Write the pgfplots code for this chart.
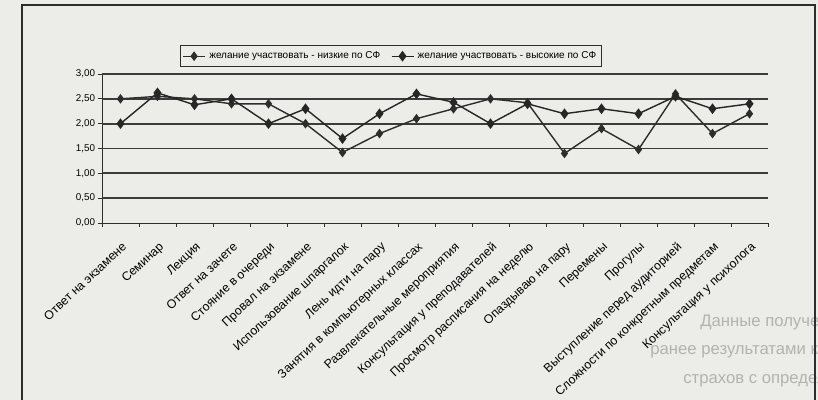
\documentclass[border=0pt]{standalone}
\usepackage{pgfplots}
\pgfplotsset{compat=1.18}
\usepackage{fontspec}
\setmainfont{Liberation Sans}
\definecolor{paper}{RGB}{236,236,233}
\definecolor{ink}{RGB}{45,45,45}
\definecolor{gridc}{RGB}{60,60,60}
\definecolor{ghost}{RGB}{178,178,176}

% 18 categories at x = 0..17
\pgfplotstableread{
x  low   high
0  2.50  2.00
1  2.55  2.62
2  2.50  2.38
3  2.40  2.50
4  2.40  2.00
5  2.00  2.30
6  1.42  1.70
7  1.80  2.20
8  2.10  2.60
9  2.30  2.43
10 2.50  2.00
11 2.42  2.40
12 1.40  2.20
13 1.90  2.30
14 1.48  2.20
15 2.60  2.55
16 1.80  2.30
17 2.20  2.40
}\sfdata

\begin{document}
\begin{tikzpicture}
\path[use as bounding box, fill=paper] (0,0) rectangle (16.36,8);
% page text showing through the scan
\begin{scope}[every node/.style={anchor=base west, inner sep=0pt, text=ghost,
    font=\fontsize{9.5}{10}\selectfont}]
\node at (14.0,1.46) {Данные полученного исследования};
\node at (13.0,0.90) {ранее результатами корреляционного};
\node at (13.66,0.32) {страхов с определенными индивидуально};
\end{scope}
\draw[ink, line width=0.7pt] (0.44,-0.2) -- (0.44,7.9) -- (16.3,7.9) -- (16.3,-0.2);
\begin{axis}[
  at={(2.04cm,3.54cm)}, anchor=south west,
  scale only axis, width=13.32cm, height=2.98cm,
  xmin=-0.5, xmax=17.5, ymin=0, ymax=3,
  axis x line*=bottom, axis y line*=left,
  axis line style={-, ink, line width=0.5pt},
  tick align=outside, major tick length=0.08cm,
  tick style={ink, line width=0.4pt},
  ytick={0,0.5,...,3},
  yticklabel style={font=\fontsize{5.6}{6}\selectfont, inner sep=1.5pt,
    /pgf/number format/fixed, /pgf/number format/fixed zerofill,
    /pgf/number format/precision=2, /pgf/number format/use comma,
    /pgf/number format/assume math mode=true},
  extra y ticks={0.5,1,...,3},
  extra y tick labels={},
  extra y tick style={grid=major, major grid style={gridc, line width=1.1pt}, tick style={draw=none}},
  xtick={-0.5,0.5,...,17.5},
  xticklabels={},
  extra x ticks={0,1,...,17},
  extra x tick labels={Ответ на экзамене, Семинар, Лекция, Ответ на зачете,
    Стояние в очереди, Провал на экзамене, Использование шпаргалок,
    Лень идти на пару, Занятия в компьютерных классах,
    Развлекательные мероприятия, Консультация у преподавателей,
    Просмотр расписания на неделю, Опаздываю на пару, Перемены, Прогулы,
    Выступление перед аудиторией, Сложности по конкретным предметам,
    Консультация у психолога},
  extra x tick style={major tick length=0pt,
    xticklabel style={rotate=43, anchor=north east, inner sep=1pt,
      font=\fontsize{7}{8}\selectfont, xshift=-0.2cm, yshift=-0.24cm}},
  legend style={at={(0.117,1.047)}, anchor=south west, draw=ink,
    line width=0.4pt, fill=paper, font=\fontsize{5.7}{6.3}\selectfont,
    inner sep=1.2pt, legend cell align=left,
    /tikz/every even column/.append style={column sep=4pt}},
  legend columns=2,
  legend image code/.code={\draw[mark repeat=2, mark phase=2, #1]
    plot coordinates {(0cm,0cm) (0.22cm,0cm) (0.44cm,0cm)};},
]
\addplot[ink, line width=0.8pt, mark=diamond*, mark size=2.1pt,
  mark options={solid, fill=ink}] table[x=x, y=low] {\sfdata};
\addlegendentry{желание участвовать - низкие по СФ}
\addplot[black!85, line width=0.8pt, mark=diamond*, mark size=2.4pt,
  mark options={solid, fill=black!85}] table[x=x, y=high] {\sfdata};
\addlegendentry{желание участвовать - высокие по СФ}
\end{axis}
\end{tikzpicture}
\end{document}
